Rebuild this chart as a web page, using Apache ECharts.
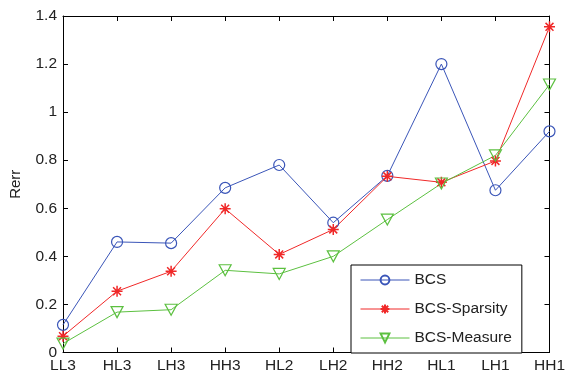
<!DOCTYPE html>
<html>
<head>
<meta charset="utf-8">
<script src="https://cdn.jsdelivr.net/npm/echarts@6/dist/echarts.min.js"></script>
<style>
  html, body { margin: 0; padding: 0; background: #fff; }
  #chart { width: 568px; height: 378px; }
</style>
</head>
<body>
<div id="chart"></div>
<script>
  const categories = ['LL3', 'HL3', 'LH3', 'HH3', 'HL2', 'LH2', 'HH2', 'HL1', 'LH1', 'HH1']
  const bcs = [0.115, 0.46, 0.455, 0.685, 0.78, 0.54, 0.735, 1.2, 0.675, 0.92]
  const bcsSparsity = [0.068, 0.255, 0.338, 0.598, 0.408, 0.512, 0.733, 0.708, 0.797, 1.355]
  const bcsMeasure = [0.037, 0.168, 0.178, 0.342, 0.327, 0.4, 0.553, 0.703, 0.82, 1.115]

  const blue = '#3a55b8'
  const red = '#f02828'
  const green = '#5cc040'
  const star = 'path://M0,-5L0,5M-5,0L5,0M-3.6,-3.6L3.6,3.6M-3.6,3.6L3.6,-3.6'
  const font = 'Liberation Sans, Arial, sans-serif'
  const labelStyle = { color: '#222', fontSize: 15.5, fontFamily: font }
  const axisLine = { show: true, onZero: false, lineStyle: { color: '#000', width: 1 } }
  const axisTick = { show: true, inside: true, length: 5, lineStyle: { color: '#000' } }

  const chart = echarts.init(document.getElementById('chart'))
  chart.setOption({
    animation: false,
    grid: { left: 63, right: 13, top: 16, bottom: 25.5 },
    legend: {
      orient: 'vertical',
      left: 351,
      top: 265,
      padding: [7, 10, 7, 9],
      itemWidth: 49,
      itemHeight: 11,
      itemGap: 13,
      itemTextGap: 5,
      borderColor: '#000',
      borderWidth: 1,
      backgroundColor: '#fff',
      lineStyle: { width: 1 },
      textStyle: { color: '#222', fontSize: 15.5, fontFamily: font },
      data: ['BCS', 'BCS-Sparsity', 'BCS-Measure']
    },
    xAxis: [
      {
        type: 'category',
        data: categories,
        boundaryGap: false,
        axisLine,
        axisTick,
        axisLabel: Object.assign({ margin: 5, interval: 0 }, labelStyle),
        splitLine: { show: false }
      },
      {
        type: 'category',
        position: 'top',
        data: categories,
        boundaryGap: false,
        axisLine,
        axisTick,
        axisLabel: { show: false },
        splitLine: { show: false }
      }
    ],
    yAxis: [
      {
        type: 'value',
        min: 0,
        max: 1.4,
        interval: 0.2,
        name: 'Rerr',
        nameLocation: 'middle',
        nameGap: 40,
        nameTextStyle: { color: '#222', fontSize: 15, fontFamily: font },
        axisLine,
        axisTick,
        axisLabel: Object.assign({ margin: 6 }, labelStyle),
        splitLine: { show: false }
      },
      {
        type: 'value',
        position: 'right',
        min: 0,
        max: 1.4,
        interval: 0.2,
        axisLine,
        axisTick,
        axisLabel: { show: false },
        splitLine: { show: false }
      }
    ],
    series: [
      {
        name: 'BCS',
        type: 'line',
        data: bcs,
        symbol: 'circle',
        symbolSize: 11,
        showAllSymbol: true,
        lineStyle: { color: blue, width: 1 },
        itemStyle: { color: 'rgba(255,255,255,0)', borderColor: blue, borderWidth: 1.2 }
      },
      {
        name: 'BCS-Sparsity',
        type: 'line',
        data: bcsSparsity,
        symbol: star,
        symbolSize: 11,
        showAllSymbol: true,
        lineStyle: { color: red, width: 1 },
        itemStyle: { color: red, borderColor: red, borderWidth: 1.5 }
      },
      {
        name: 'BCS-Measure',
        type: 'line',
        data: bcsMeasure,
        symbol: 'triangle',
        symbolRotate: 180,
        symbolSize: [12, 11],
        showAllSymbol: true,
        lineStyle: { color: green, width: 1 },
        itemStyle: { color: 'rgba(255,255,255,0)', borderColor: green, borderWidth: 1.2 }
      }
    ]
  })
</script>
</body>
</html>
